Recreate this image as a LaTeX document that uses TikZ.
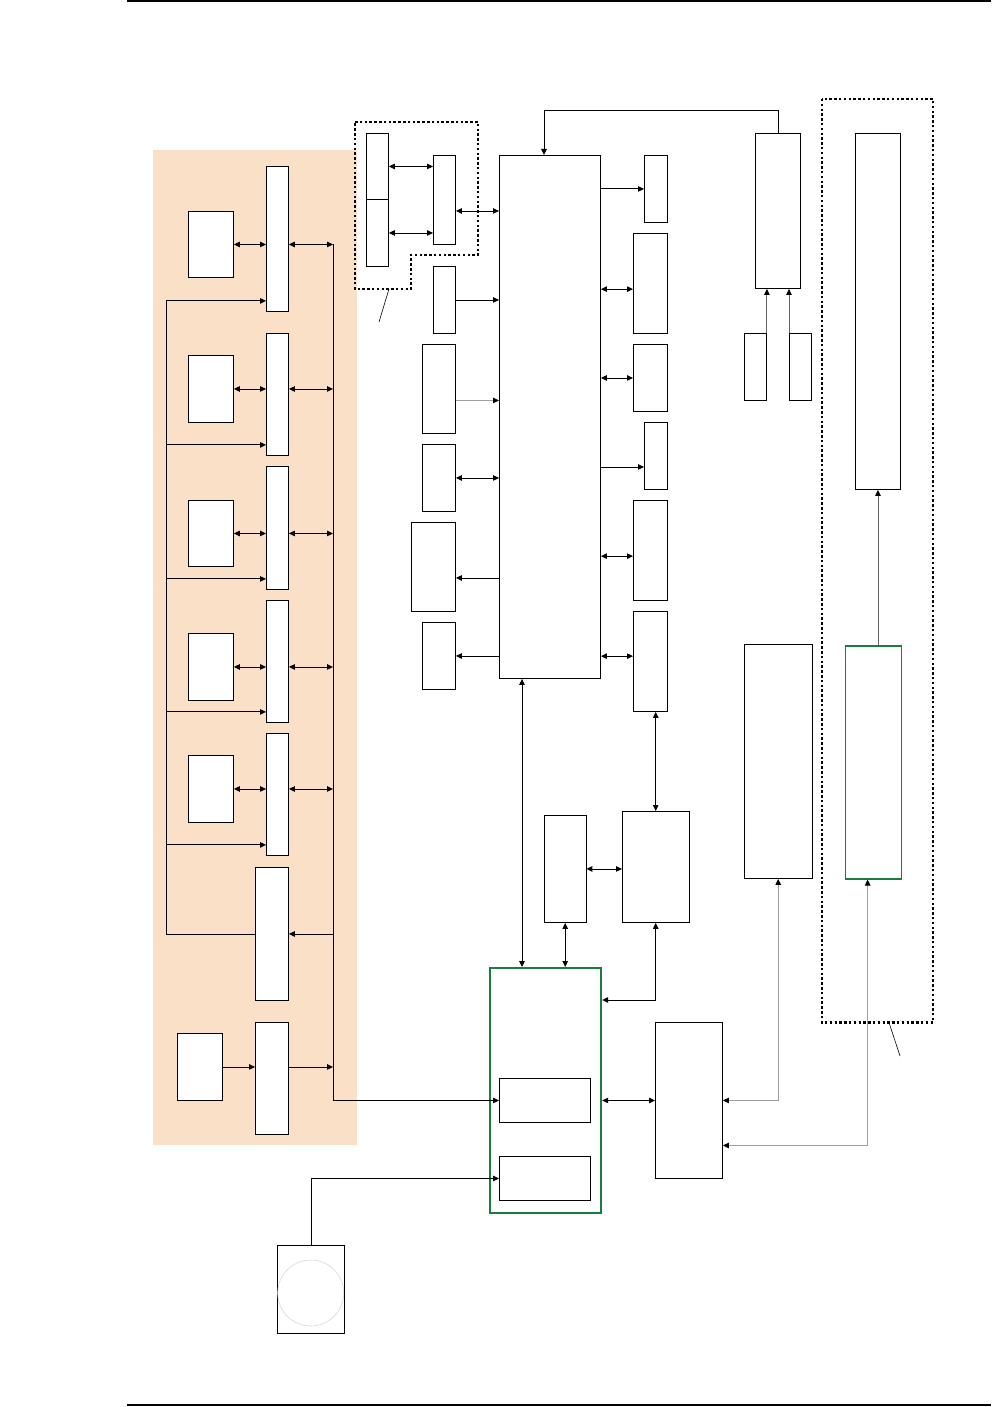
\documentclass[tikz,border=0pt]{standalone}
\usepackage{xcolor}
\usepackage{tikz}
\usetikzlibrary{
    arrows.meta,
    positioning,
    calc
}
\definecolor{panelbeige}{RGB}{250,224,198}
\definecolor{boardgreen}{RGB}{28,124,62}
\tikzset{
    unit/.style={
        draw=black,
        fill=white,
        line width=0.9pt,
        inner sep=0pt,
        anchor=north west
    }
}
\tikzset{
    greenunit/.style={
        unit,
        draw=boardgreen
    }
}
\tikzset{
    link/.style={
        line width=0.9pt,
        -{Triangle[length=6pt,width=5.5pt,color=black]}
    },
    dlink/.style={
        line width=0.9pt,
        {Triangle[length=6pt,width=5.5pt,color=black]}-{Triangle[length=6pt,width=5.5pt,color=black]}
    }
}
\tikzset{
    faint/.style={draw=black!38},
    dimmed/.style={draw=black!60},
    groupline/.style={
        line width=2.5pt,
        dash pattern=on 2.5pt off 2.3pt
    }
}

\begin{document}
\begin{tikzpicture}[
    x=1pt, y=-1pt
]

\useasboundingbox (0,0) rectangle (991,1407);

% =========================================================
% Page rules
% =========================================================

\draw[line width=2pt] (127,1) -- (991,1);
\draw[line width=2pt] (127,1405) -- (991,1405);

% =========================================================
% Left panel
% =========================================================

\fill[panelbeige] (153,150) rectangle (357,1145);

\node[unit, minimum width=45pt, minimum height=66pt] (dev1) at (188,211) {};
\node[unit, minimum width=22pt, minimum height=145pt] (drv1) at (266,166) {};
\node[unit, minimum width=45pt, minimum height=67pt] (dev2) at (188,355) {};
\node[unit, minimum width=22pt, minimum height=122pt] (drv2) at (266,333) {};
\node[unit, minimum width=45pt, minimum height=66pt] (dev3) at (188,500) {};
\node[unit, minimum width=22pt, minimum height=123pt] (drv3) at (266,466) {};
\node[unit, minimum width=45pt, minimum height=67pt] (dev4) at (188,633) {};
\node[unit, minimum width=22pt, minimum height=122pt] (drv4) at (266,600) {};
\node[unit, minimum width=45pt, minimum height=67pt] (dev5) at (188,755) {};
\node[unit, minimum width=22pt, minimum height=122pt] (drv5) at (266,733) {};

\node[unit, minimum width=33pt, minimum height=133pt] (ctl) at (255,867) {};
\node[unit, minimum width=44.5pt, minimum height=67pt] (src) at (177,1033) {};
\node[unit, minimum width=33pt, minimum height=112pt] (conv) at (255,1022) {};

\coordinate (bus) at (333,0);
\coordinate (fb) at (166,0);
\coordinate (in1) at ([yshift=11pt]drv1.south west);
\coordinate (in2) at ([yshift=11pt]drv2.south west);
\coordinate (in3) at ([yshift=11pt]drv3.south west);
\coordinate (in4) at ([yshift=11pt]drv4.south west);
\coordinate (in5) at ([yshift=11pt]drv5.south west);

\draw[dlink] (dev1.east) -- (dev1.east -| drv1.west);
\draw[dlink] (dev1.east -| drv1.east) -- (dev1.east -| bus);
\draw[dlink] (dev2.east) -- (dev2.east -| drv2.west);
\draw[dlink] (dev2.east -| drv2.east) -- (dev2.east -| bus);
\draw[dlink] (dev3.east) -- (dev3.east -| drv3.west);
\draw[dlink] (dev3.east -| drv3.east) -- (dev3.east -| bus);
\draw[dlink] (dev4.east) -- (dev4.east -| drv4.west);
\draw[dlink] (dev4.east -| drv4.east) -- (dev4.east -| bus);
\draw[dlink] (dev5.east) -- (dev5.east -| drv5.west);
\draw[dlink] (dev5.east -| drv5.east) -- (dev5.east -| bus);

\draw[line width=0.9pt] (ctl.west) -| (fb |- in1);
\draw[link] (fb |- in1) -- (in1);
\draw[link] (fb |- in2) -- (in2);
\draw[link] (fb |- in3) -- (in3);
\draw[link] (fb |- in4) -- (in4);
\draw[link] (fb |- in5) -- (in5);

\draw[link] (bus |- ctl.east) -- (ctl.east);
\draw[link] (src.east) -- (src.east -| conv.west);
\draw[link] (src.east -| conv.east) -- (src.east -| bus);

% =========================================================
% Processor
% =========================================================

\node[unit, minimum width=101pt, minimum height=523pt] (cpu) at (499,155) {};

\node[unit, minimum width=22pt, minimum height=66pt] (st1) at (366,133) {};
\node[unit, minimum width=22pt, minimum height=67pt] (st2) at (366,199) {};
\node[unit, minimum width=22pt, minimum height=89pt] (hub) at (433,155) {};

\draw[groupline] (355,122) -- (478,122) -- (478,255) -- (411,255)
    -- (411,289) -- (355,289) -- cycle;
\draw[line width=0.6pt] (389,289) -- (379,322);

\draw[dlink] (st1.east) -- (st1.east -| hub.west);
\draw[dlink] (st2.east) -- (st2.east -| hub.west);
\draw[dlink] ([yshift=-11pt]hub.east) -- ([yshift=-11pt]hub.east -| cpu.west);

\node[unit, minimum width=22pt, minimum height=67pt] (in1box) at (433,266) {};
\node[unit, minimum width=33pt, minimum height=89pt] (in2box) at (422,344) {};
\node[unit, minimum width=33pt, minimum height=67pt] (iobox) at (422,444) {};
\node[unit, minimum width=44pt, minimum height=89pt] (out1box) at (411,522) {};
\node[unit, minimum width=33pt, minimum height=67pt] (out2box) at (422,622) {};

\draw[link] (in1box.east) -- (in1box.east -| cpu.west);
\draw[link, faint] ([yshift=-11.5pt]in2box.east) -- ([yshift=-11.5pt]in2box.east -| cpu.west);
\draw[dlink] (iobox.east) -- (iobox.east -| cpu.west);
\draw[link] ([yshift=-11pt]out1box.east -| cpu.west) -- ([yshift=-11pt]out1box.east);
\draw[link] (out2box.east -| cpu.west) -- (out2box.east);

\node[unit, minimum width=22.5pt, minimum height=67pt] (r1) at (644,155) {};
\node[unit, minimum width=33.5pt, minimum height=100pt] (r2) at (633,233) {};
\node[unit, minimum width=33.5pt, minimum height=67pt] (r3) at (633,344) {};
\node[unit, minimum width=22.5pt, minimum height=67pt] (r4) at (644,422) {};
\node[unit, minimum width=33.5pt, minimum height=100pt] (r5) at (633,500) {};
\node[unit, minimum width=33.5pt, minimum height=100pt] (r6) at (633,611) {};

\draw[link] (r1.west -| cpu.east) -- (r1.west);
\draw[dlink] ([yshift=-5.7pt]r2.west -| cpu.east) -- ([yshift=-5.7pt]r2.west);
\draw[dlink] (r3.west -| cpu.east) -- (r3.west);
\draw[link] ([yshift=-11pt]r4.west -| cpu.east) -- ([yshift=-11pt]r4.west);
\draw[dlink] ([yshift=-5.7pt]r5.west -| cpu.east) -- ([yshift=-5.7pt]r5.west);
\draw[dlink] ([yshift=5.3pt]r6.west -| cpu.east) -- ([yshift=5.3pt]r6.west);

% =========================================================
% Supply
% =========================================================

\node[unit, minimum width=45pt, minimum height=155pt] (pwr) at (755,133) {};
\node[unit, minimum width=22pt, minimum height=67pt] (sb1) at (744,333) {};
\node[unit, minimum width=22pt, minimum height=67pt] (sb2) at (789,333) {};

\coordinate (loop) at (544,110);
\draw[link] (pwr.north) |- (loop) -- (loop |- cpu.north);
\draw[link, dimmed] (sb1.north east) -- (sb1.north east |- pwr.south);
\draw[link, dimmed] (sb2.north west) -- (sb2.north west |- pwr.south);

% =========================================================
% Main board
% =========================================================

\node[unit, minimum width=41.5pt, minimum height=107pt] (nbox) at (544,815) {};
\node[unit, minimum width=66.5pt, minimum height=111pt] (mbox) at (622,811) {};
\node[greenunit, line width=2.2pt, minimum width=111pt, minimum height=245pt] (host) at (489,967) {};
\node[unit, minimum width=90.5pt, minimum height=44pt] (ib1) at (499,1078) {};
\node[unit, minimum width=90.5pt, minimum height=44pt] (ib2) at (499,1156) {};
\node[unit, minimum width=67pt, minimum height=156pt] (pbox) at (655,1022) {};

\draw[dlink] (nbox.east) -- (nbox.east -| mbox.west);
\draw[dlink] (mbox.north) -- (mbox.north |- r6.south);
\draw[dlink] ([xshift=33pt]host.north west |- cpu.south) -- ([xshift=33pt]host.north west);
\draw[dlink] (nbox.south) -- (nbox.south |- host.north);
\draw[dlink] (mbox.south) |- ([yshift=-33pt]host.north east);
\draw[dlink] (host.east |- pbox.west) -- (pbox.west);
\draw[link] (bus |- dev1.east) |- (ib1.west);

% =========================================================
% Right group
% =========================================================

\node[unit, minimum width=45pt, minimum height=356pt] (tall) at (855,133) {};
\node[greenunit, line width=1.5pt, minimum width=56pt, minimum height=233pt] (g2) at (844.5,645) {};
\node[unit, minimum width=67.5pt, minimum height=234pt] (qbox) at (744,644) {};

\draw[groupline] (822,99) rectangle (933,1022.5);
\draw[line width=0.6pt] (889,1022.5) -- (900,1056);

\draw[link, dimmed] (g2.north -| tall.south) -- (tall.south);
\draw[dlink, faint] (qbox.south) |- (pbox.east);
\draw[dlink, faint] ([xshift=-5.6pt]g2.south) |- ([yshift=-45pt]pbox.east);

% =========================================================
% Disk
% =========================================================

\node[unit, minimum width=67pt, minimum height=88pt] (disk) at (277,1245) {};
\draw[black!15, line width=0.6pt] (310.7,1293) circle (33pt);
\draw[link] (disk.north) |- (ib2.west);

\end{tikzpicture}
\end{document}
